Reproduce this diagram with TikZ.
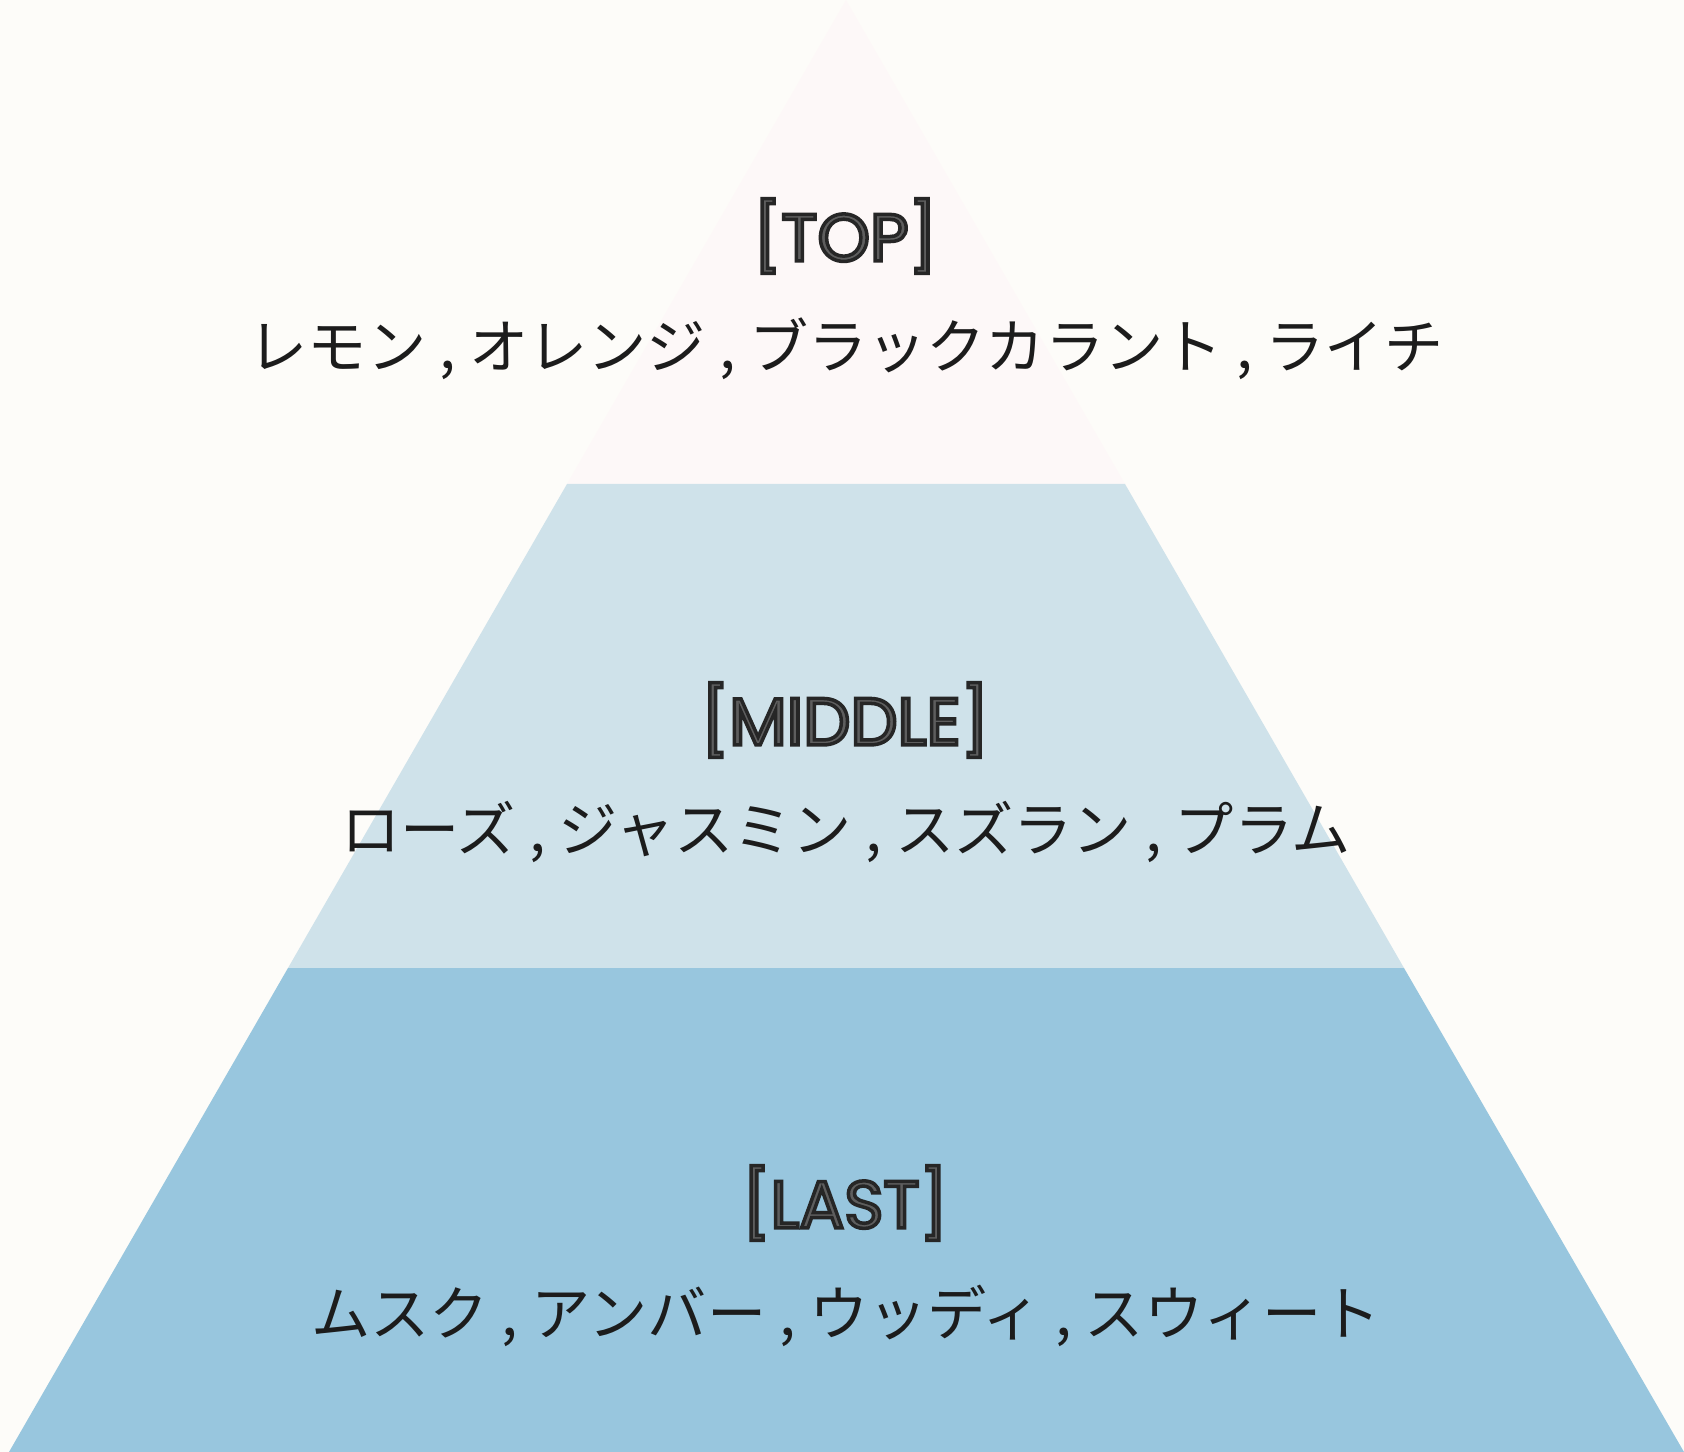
\documentclass[tikz,border=0pt]{standalone}
\usepackage{fontspec}
\setmainfont{Poppins}
\newfontfamily\cjk{Noto Sans CJK JP}
\definecolor{paper}{HTML}{FDFCF9}
\definecolor{toptier}{HTML}{FDF8F8}
\definecolor{midtier}{HTML}{CFE2EA}
\definecolor{lasttier}{HTML}{98C6DE}
\definecolor{labelfill}{HTML}{5E5E5E}
\definecolor{notetext}{HTML}{1C1C1C}
% outlined label text: fill and stroke, dark edge
\newcommand{\tierlabel}[1]{\textcolor{labelfill}{%
  \special{pdf:literal direct 0.15 G 2 w 2 Tr}#1\special{pdf:literal direct 0 Tr}}}
\begin{document}
\begin{tikzpicture}[x=0.02cm,y=-0.02cm,
  label/.style={font=\fontsize{38}{40}\selectfont,inner sep=0pt},
  notes/.style={font=\cjk\fontsize{33.7}{38}\selectfont,text=notetext,inner sep=0pt}]
  \fill[paper] (0,0) rectangle (1684,1452);
  \useasboundingbox (0,0) rectangle (1684,1452);

  \coordinate (apex) at (846, 0);
  \coordinate (tl) at (567, 484);
  \coordinate (tr) at (1125, 484);
  \coordinate (ml) at (288, 968);
  \coordinate (mr) at (1404, 968);
  \coordinate (bl) at (9, 1452);
  \coordinate (br) at (1684, 1452);

  \fill[toptier] (apex) -- (tr) -- (tl) -- cycle;
  \fill[midtier] (tl) -- (tr) -- (mr) -- (ml) -- cycle;
  \fill[lasttier] (ml) -- (mr) -- (br) -- (bl) -- cycle;

  \node[label] (top) at (845, 236) {\tierlabel{[TOP]}};
  \node[notes] (topnotes) at (846, 349)
    {レモン , オレンジ , ブラックカラント , ライチ};
  \node[label] (middle) at (845, 720) {\tierlabel{[MIDDLE]}};
  \node[notes] (midnotes) at (846, 832)
    {ローズ , ジャスミン , スズラン , プラム};
  \node[label] (last) at (845, 1203) {\tierlabel{[LAST]}};
  \node[notes] (lastnotes) at (846, 1316)
    {ムスク , アンバー , ウッディ , スウィート};
\end{tikzpicture}
\end{document}
